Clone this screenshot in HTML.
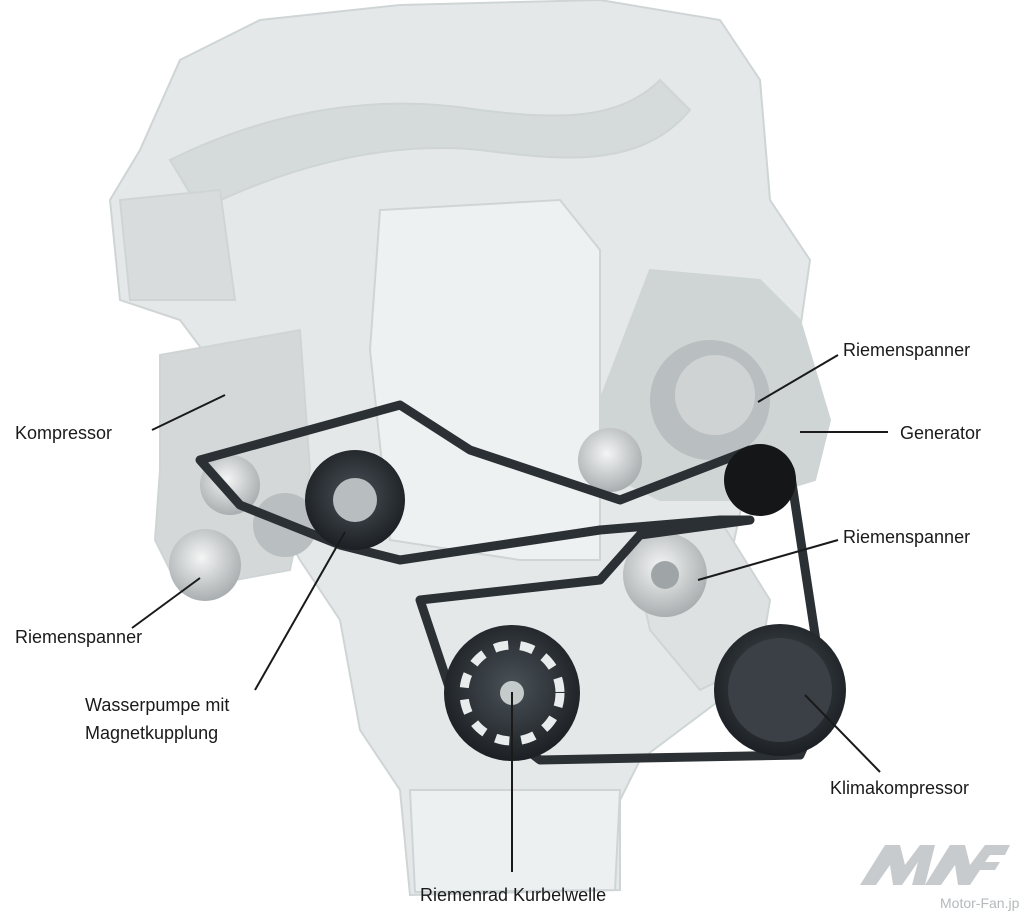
<!DOCTYPE html>
<html><head><meta charset="utf-8"><style>
html,body{margin:0;padding:0;background:#fff;}
svg{display:block;}
text{font-family:"Liberation Sans",sans-serif;font-size:18px;fill:#1a1a1a;}
</style></head><body>
<svg width="1024" height="919" viewBox="0 0 1024 919" xmlns="http://www.w3.org/2000/svg">
<defs>
<radialGradient id="dp" cx="50%" cy="45%" r="55%"><stop offset="0" stop-color="#4a5258"/><stop offset="1" stop-color="#1c2024"/></radialGradient>
<radialGradient id="lp" cx="45%" cy="40%" r="60%"><stop offset="0" stop-color="#f4f5f5"/><stop offset="1" stop-color="#a9aeb0"/></radialGradient>
</defs>
<!-- engine silhouette -->
<g fill="#e4e8e8" stroke="#cfd5d5" stroke-width="2">
<path d="M140 150 L180 60 L260 20 L400 5 L600 0 L720 20 L760 80 L770 200 L810 260 L800 330 L760 350 L760 420 L730 560 L740 620 L720 700 L640 760 L620 800 L620 890 L410 895 L400 790 L360 730 L340 620 L300 560 L250 470 L210 360 L180 320 L120 300 L110 200 Z"/>
<path d="M380 210 L560 200 L600 250 L600 560 L520 560 L390 540 L370 350 Z" fill="#eef1f1"/>
<path d="M170 160 C250 120 360 90 480 110 C560 120 620 120 660 80 L690 110 C640 170 560 160 480 150 C380 140 280 170 200 210 Z" fill="#d5dadb"/>
<path d="M410 790 L620 790 L615 890 L415 892 Z" fill="#edf0f0"/>
<path d="M120 200 L220 190 L235 300 L130 300 Z" fill="#d8dcdd"/>
<path d="M650 270 L760 280 L800 320 L830 420 L815 480 L750 500 L660 500 L600 470 L600 400 Z" fill="#cfd4d5"/>
<path d="M160 355 L300 330 L310 470 L290 570 L180 590 L155 540 L160 470 Z" fill="#d4d8d9"/>
<path d="M630 540 L720 520 L770 600 L760 660 L700 690 L650 630 Z" fill="#dde1e2"/>
</g>
<!-- components -->
<circle cx="710" cy="400" r="60" fill="#b9bec0"/>
<circle cx="715" cy="395" r="40" fill="#cfd3d4"/>
<circle cx="610" cy="460" r="32" fill="url(#lp)"/>
<circle cx="230" cy="485" r="30" fill="url(#lp)"/>
<circle cx="205" cy="565" r="36" fill="url(#lp)"/>
<circle cx="285" cy="525" r="32" fill="#b9bec0"/>
<circle cx="665" cy="575" r="42" fill="url(#lp)"/>
<circle cx="665" cy="575" r="14" fill="#9fa5a7"/>
<!-- belt -->
<path d="M200 460 L400 405 L470 450 L620 500 L750 450 L790 470 L825 700 L800 755 L540 760 L450 690 L420 600 L600 580 L640 535 L750 520 L720 520 L600 530 L400 560 L340 545 L240 505 Z" fill="none" stroke="#2b3034" stroke-width="9" stroke-linejoin="round"/>
<!-- pulleys -->
<circle cx="355" cy="500" r="50" fill="url(#dp)"/>
<circle cx="355" cy="500" r="22" fill="#b8bdbf"/>
<circle cx="512" cy="693" r="68" fill="url(#dp)"/>
<circle cx="512" cy="693" r="48" fill="none" stroke="#e9ecec" stroke-width="9" stroke-dasharray="14 12"/>
<circle cx="512" cy="693" r="12" fill="#c5cacb"/>
<circle cx="780" cy="690" r="66" fill="url(#dp)"/>
<circle cx="780" cy="690" r="52" fill="#3a4045"/>
<circle cx="760" cy="480" r="36" fill="#141618"/>
<!-- leader lines -->
<g stroke="#1a1a1a" stroke-width="2">
<line x1="838" y1="355" x2="758" y2="402"/>
<line x1="888" y1="432" x2="800" y2="432"/>
<line x1="838" y1="540" x2="698" y2="580"/>
<line x1="152" y1="430" x2="225" y2="395"/>
<line x1="132" y1="628" x2="200" y2="578"/>
<line x1="255" y1="690" x2="345" y2="532"/>
<line x1="880" y1="772" x2="805" y2="695"/>
<line x1="512" y1="872" x2="512" y2="692"/>
</g>
<!-- labels -->
<text x="843" y="356">Riemenspanner</text>
<text x="900" y="439">Generator</text>
<text x="843" y="543">Riemenspanner</text>
<text x="15" y="439">Kompressor</text>
<text x="15" y="643">Riemenspanner</text>
<text x="85" y="711">Wasserpumpe mit</text>
<text x="85" y="739">Magnetkupplung</text>
<text x="830" y="794">Klimakompressor</text>
<text x="420" y="901">Riemenrad Kurbelwelle</text>
<!-- logo -->
<g fill="#c8cbcd">
<path d="M860 885 L885 845 L900 845 L905 865 L920 845 L935 845 L925 885 L912 885 L918 862 L902 885 L893 885 L890 865 L876 885 Z"/>
<path d="M925 885 L950 845 L965 845 L970 865 L985 845 L1010 845 L1005 855 L990 855 L985 862 L1000 862 L995 870 L980 870 L970 885 L958 885 L955 865 L941 885 Z"/>
</g>
<text x="940" y="908" style="font-size:14px;fill:#b5b9bb">Motor-Fan.jp</text>
</svg>
</body></html>
